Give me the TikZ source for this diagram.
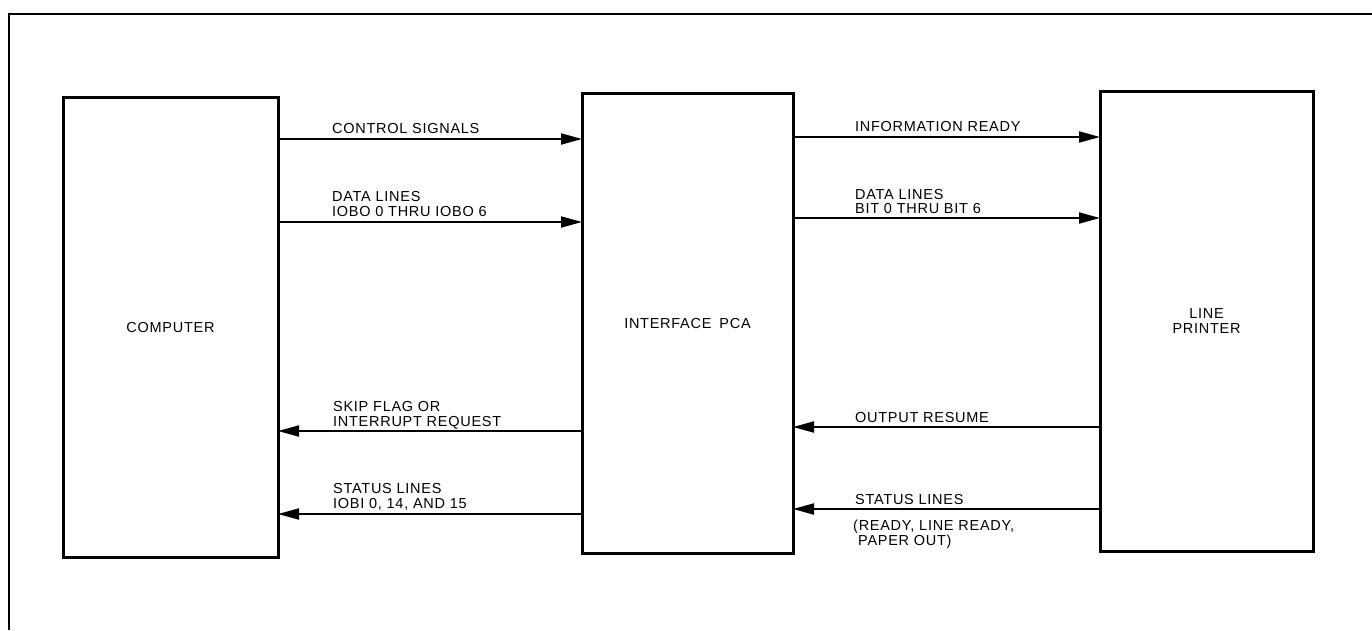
\documentclass[tikz,border=0pt]{standalone}
\usepackage{fontspec}
\setmainfont{Liberation Sans}[LetterSpace=5]
\usetikzlibrary{arrows.meta}
\begin{document}
\begin{tikzpicture}[x=1pt,y=-1pt,
  frame/.style={line width=2.4pt},
  blk/.style={draw, line width=3pt, outer sep=0pt, inner sep=0pt, minimum height=460pt, align=center, font=\fontsize{14.5}{15.5}\selectfont},
  arr/.style={line width=1.9pt, -{Triangle[length=21pt,width=11pt]}},
  lab/.style={anchor=base west, inner sep=0pt, font=\fontsize{14.5}{17}\selectfont}]
\useasboundingbox (0,0) rectangle (1372,630);
\draw[frame] (9,630) -- (9,14) -- (1372,14);
\node[blk, minimum width=215pt] (comp) at (170.5,327) {COMPUTER};
\node[blk, minimum width=211pt] (intf) at (687.5,323) {INTERFACE\hspace{8pt}PCA};
\node[blk, minimum width=213pt] (prnt) at (1206.5,321) {LINE\\PRINTER};
% computer -> interface
\draw[arr] (comp.east |- 0,139) -- (intf.west |- 0,139);
\draw[arr] (comp.east |- 0,222) -- (intf.west |- 0,222);
\node[lab] (l1) at (332,133) {CONTROL SIGNALS};
\node[lab] (l2a) at (332,201) {DATA LINES};
\node[lab] (l2b) at (332,216) {IOBO 0 THRU IOBO 6};
% interface -> printer
\draw[arr] (intf.east |- 0,137) -- (prnt.west |- 0,137);
\draw[arr] (intf.east |- 0,218) -- (prnt.west |- 0,218);
\node[lab] (l3) at (855,131) {INFORMATION READY};
\node[lab] (l4a) at (855,199) {DATA LINES};
\node[lab] (l4b) at (855,213) {BIT 0 THRU BIT 6};
% interface -> computer
\draw[arr] (intf.west |- 0,431) -- (comp.east |- 0,431);
\draw[arr] (intf.west |- 0,514) -- (comp.east |- 0,514);
\node[lab] (l5a) at (333,411) {SKIP FLAG OR};
\node[lab] (l5b) at (333,426) {INTERRUPT REQUEST};
\node[lab] (l6a) at (333,493) {STATUS LINES};
\node[lab] (l6b) at (333,508) {IOBI 0, 14, AND 15};
% printer -> interface
\draw[arr] (prnt.west |- 0,427) -- (intf.east |- 0,427);
\draw[arr] (prnt.west |- 0,509) -- (intf.east |- 0,509);
\node[lab] (l7) at (855,422) {OUTPUT RESUME};
\node[lab] (l8) at (855,504) {STATUS LINES};
\node[lab] (l9a) at (853,530) {(READY, LINE READY,};
\node[lab] (l9b) at (858,545) {PAPER OUT)};
\end{tikzpicture}
\end{document}
